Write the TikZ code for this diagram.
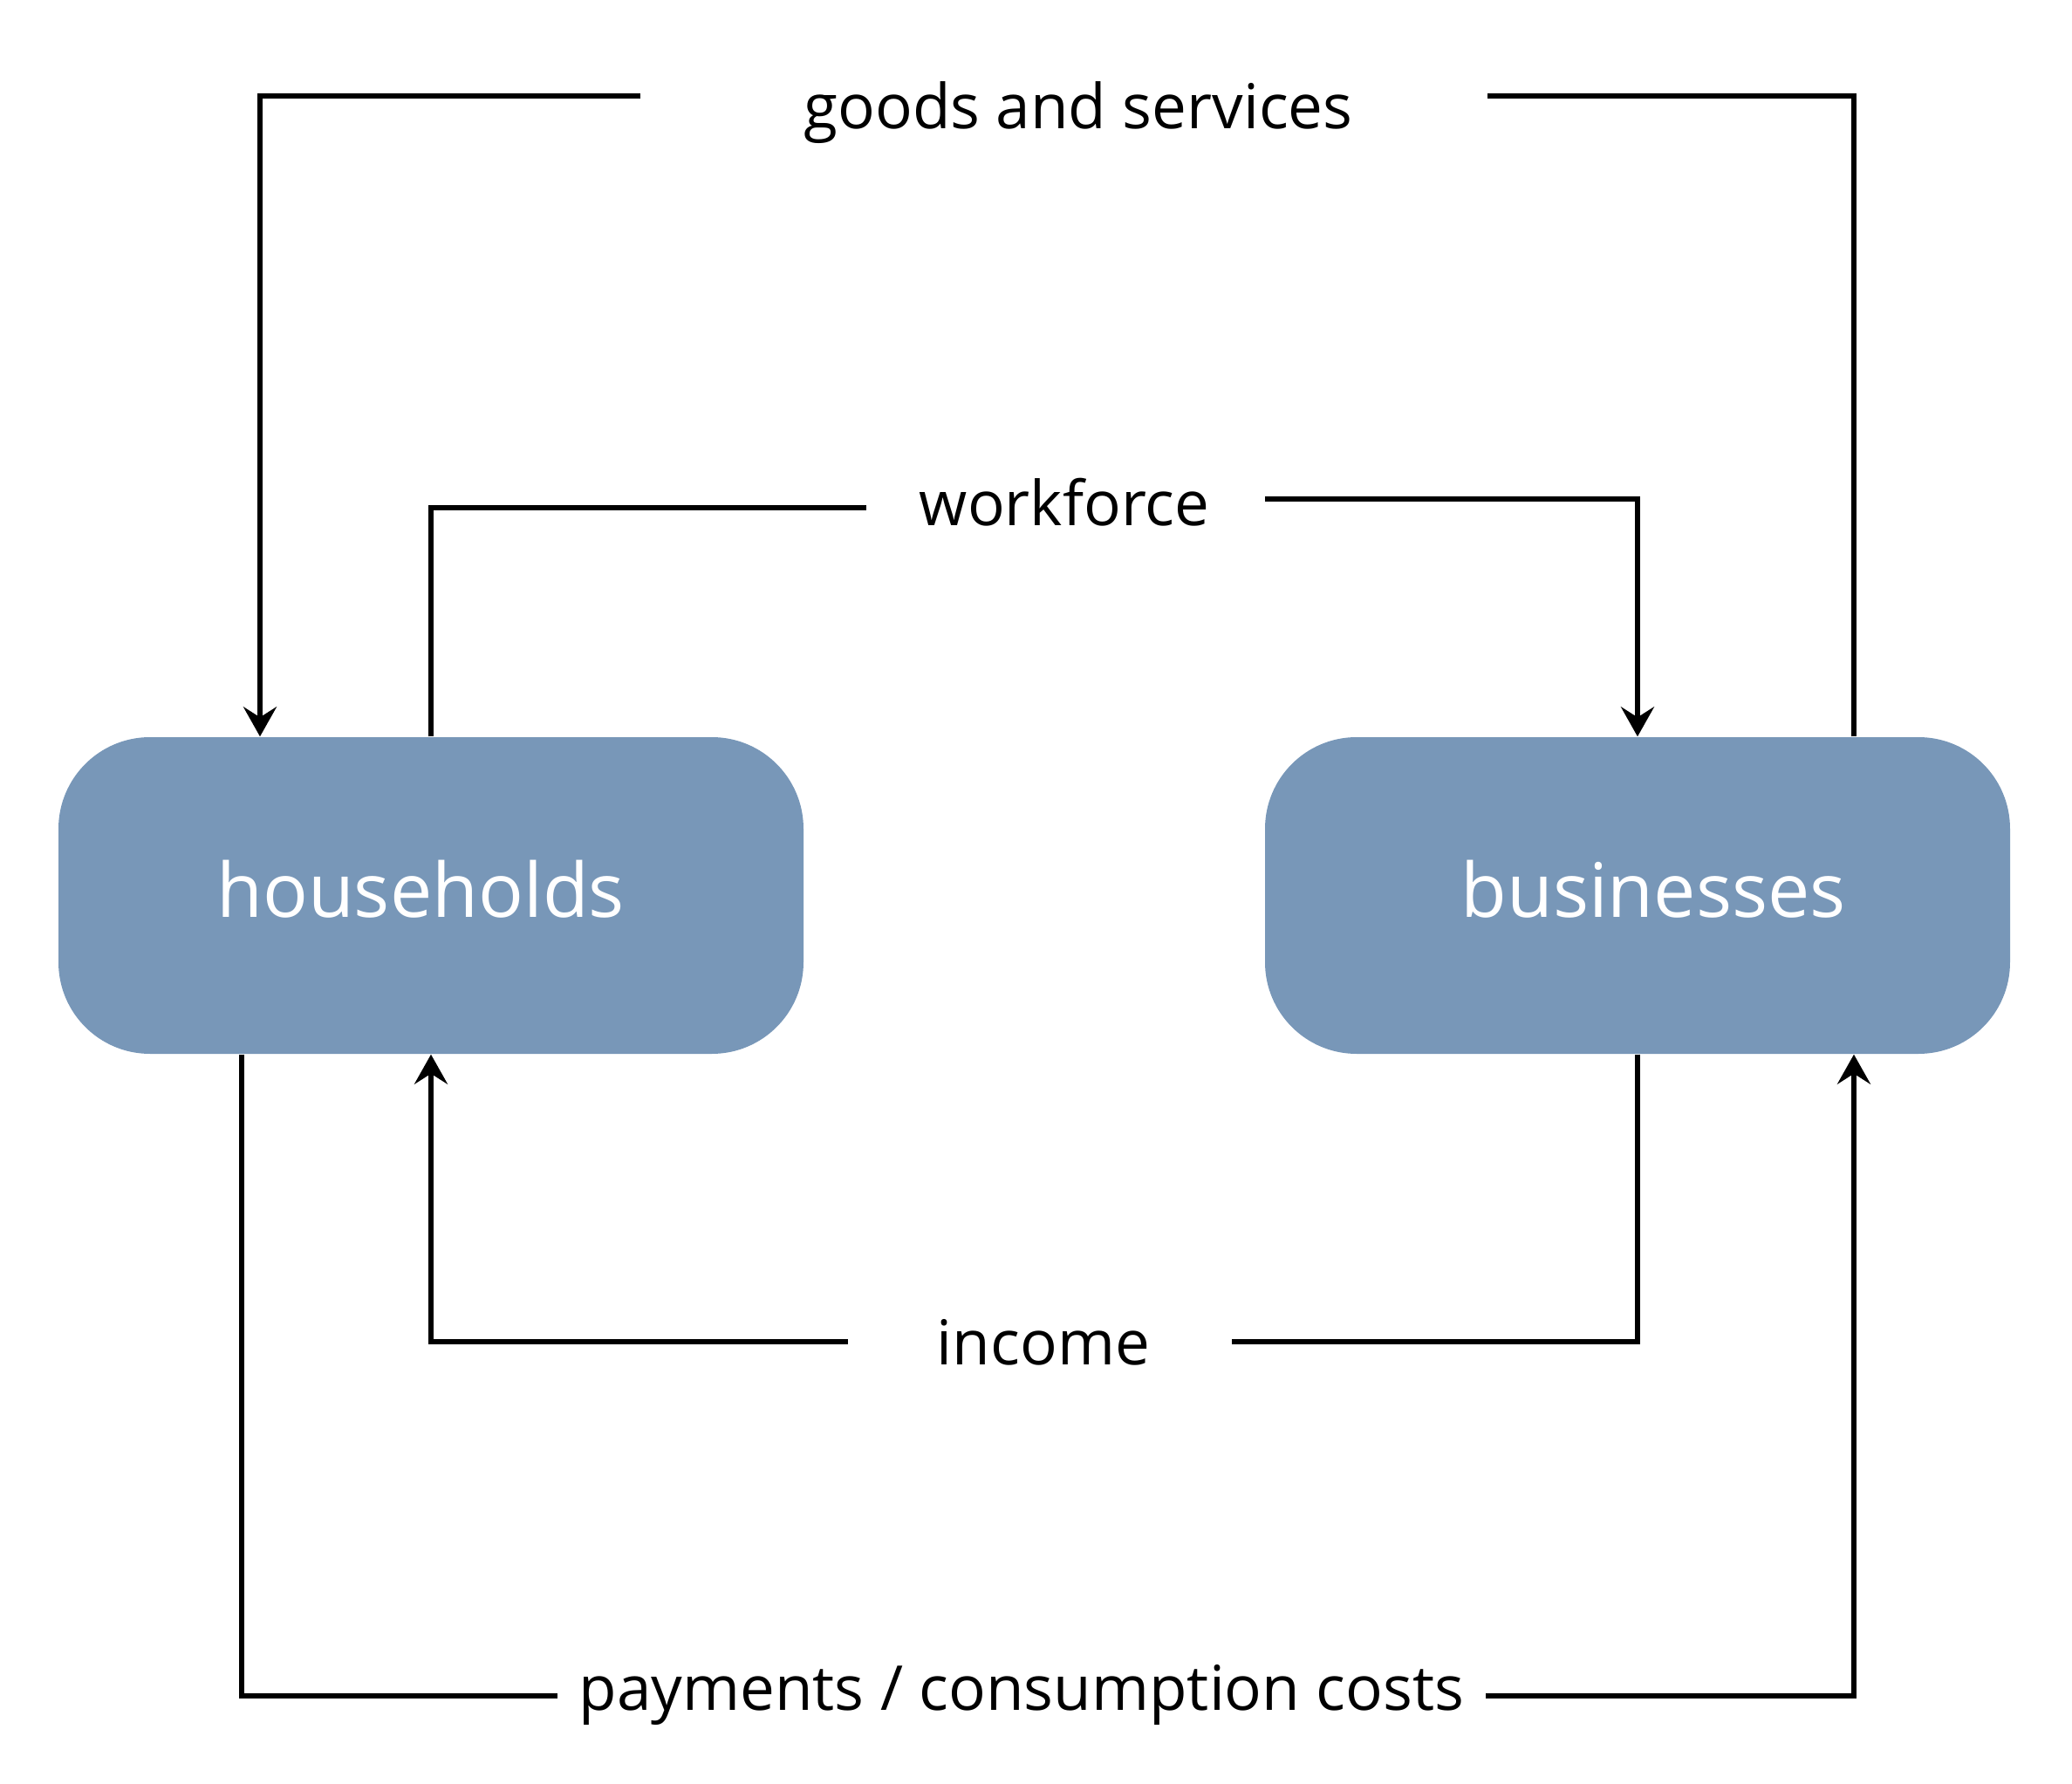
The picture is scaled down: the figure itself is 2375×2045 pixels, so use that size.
\documentclass[tikz,border=0pt]{standalone}
\usepackage{fontspec}
\setmainfont{Open Sans}
\usetikzlibrary{arrows.meta}
\definecolor{boxblue}{RGB}{120,151,184}
\begin{document}
\begin{tikzpicture}[x=0.1mm,y=-0.1mm,
  flow/.style={line width=0.64mm},
  arr/.style={flow,-{Stealth[length=3.4mm,width=3.8mm,inset=1.2mm]}},
  box/.style={fill=boxblue, rounded corners=10.5mm, minimum width=85.4mm, minimum height=36.3mm, inner sep=0pt, draw=none},
  boxtext/.style={anchor=base, text=white, font=\fontsize{24.5}{28}\selectfont, inner sep=0pt},
  lab/.style={anchor=base, font=\fontsize{20.2}{24}\selectfont, inner sep=0pt}]
\useasboundingbox (0,0) rectangle (2375,2045);
\node[box] (hh) at (494,1026.5) {};
\node[box] (bus) at (1877,1026.5) {};
\node[boxtext] (hht) at (482,1051) {households};
\node[boxtext] (bust) at (1895,1051) {businesses};
\node[lab] (goods) at (1236,148) {goods and services};
\node[lab] (work) at (1220,603) {workforce};
\node[lab] (inc) at (1196,1564) {income};
\node[lab] (pay) at (1171,1960) {payments / consumption costs};
\coordinate (gL) at (734,110);
\coordinate (gR) at (1705,110);
\coordinate (wL) at (993,582);
\coordinate (wR) at (1450,572);
\coordinate (iL) at (972,1538);
\coordinate (iR) at (1412,1538);
\coordinate (pL) at (639,1944);
\coordinate (pR) at (1703,1944);
\draw[arr] (gL) -| ([xshift=-19.6mm]hh.north);
\draw[flow] ([xshift=24.8mm]bus.north) |- (gR);
\draw[flow] (hh.north) |- (wL);
\draw[arr] (wR) -| (bus.north);
\draw[arr] (iL) -| (hh.south);
\draw[flow] (bus.south) |- (iR);
\draw[flow] ([xshift=-21.7mm]hh.south) |- (pL);
\draw[arr] (pR) -| ([xshift=24.8mm]bus.south);
\end{tikzpicture}
\end{document}
